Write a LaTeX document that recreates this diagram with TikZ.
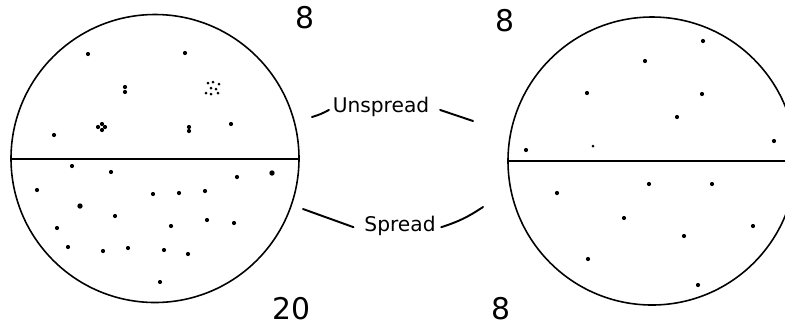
\documentclass[tikz,border=0pt]{standalone}
\usepackage{fontspec}
\setmainfont{DejaVu Sans}

\begin{document}
\begin{tikzpicture}[x=0.02cm,y=-0.02cm,line cap=round,line join=round,every node/.style={inner sep=1pt},
  disk/.style={line width=0.9pt},
  tick/.style={line width=1.1pt},
  count/.style={font=\fontsize{17}{20}\selectfont,anchor=base},
  tag/.style={font=\fontsize{11.5}{14}\selectfont,anchor=base}]
  \useasboundingbox (0,0) rectangle (785,326);
  \clip (0,0) rectangle (785,326);
  \def\r{144}
  \def\dt{2.1}
  \coordinate (L) at (155,158.5);
  \coordinate (R) at (652,161);
  \draw[disk] (L) circle[radius=\r];
  \draw[disk] (L) ++(-\r,0.5) -- ++(2*\r,0);
  \draw[disk] (R) circle[radius=\r];
  \draw[disk] (R) ++(-\r,0) -- ++(2*\r,0);
  \node[count] (cUL) at (305,28) {8};
  \node[count] (cUR) at (505,31) {8};
  \node[count] (cSL) at (292,319) {20};
  \node[count] (cSR) at (501,319) {8};
  \node[tag] (unspread) at (381,112) {Unspread};
  \node[tag] (spread) at (400,231) {Spread};
  \coordinate (uL) at (312,117);
  \coordinate (uR) at (473,121);
  \coordinate (sL) at (303,209);
  \coordinate (sR) at (483,207);
  \draw[tick] ([xshift=-1pt,yshift=-2pt]unspread.west) to[bend left=6] (uL);
  \draw[tick] ([xshift=5pt,yshift=-2pt]unspread.east) -- (uR);
  \draw[tick] ([xshift=-5pt,yshift=-1pt]spread.west) -- (sL);
  \draw[tick] ([xshift=2pt,yshift=-1pt]spread.east) to[bend right=8] (sR);
  \foreach \x/\y in {88/54,185/53,54/135,231/124,125/87,125/92,189/127,189/131,
    98/127,102/124,105/127,102/130} {
    \fill (\x,\y) circle[radius=\dt];
  }
  \foreach \x/\y in {208/83,213/82,219/84,211/88,216/89,206/93,211/94,218/93} {
    \fill (\x,\y) circle[radius=1.5];
  }
  \foreach \x/\y in {72/166,111/172,237/177,37/190,153/194,179/193,205/191,115/216,
    57/228,171/226,207/220,234/223,68/247,103/251,128/248,164/250,188/254,160/282} {
    \fill (\x,\y) circle[radius=\dt];
  }
  \foreach \x/\y in {272/173,80/206} {
    \fill (\x,\y) circle[radius=2.7];
  }
  \foreach \x/\y in {703/41,645/61,587/93,702/94,677/117,526/150,774/141,
    557/193,649/184,712/184,624/218,684/236,753/226,588/259,698/285} {
    \fill (\x,\y) circle[radius=\dt];
  }
  \fill (593,146) circle[radius=1.5];
\end{tikzpicture}
\end{document}
